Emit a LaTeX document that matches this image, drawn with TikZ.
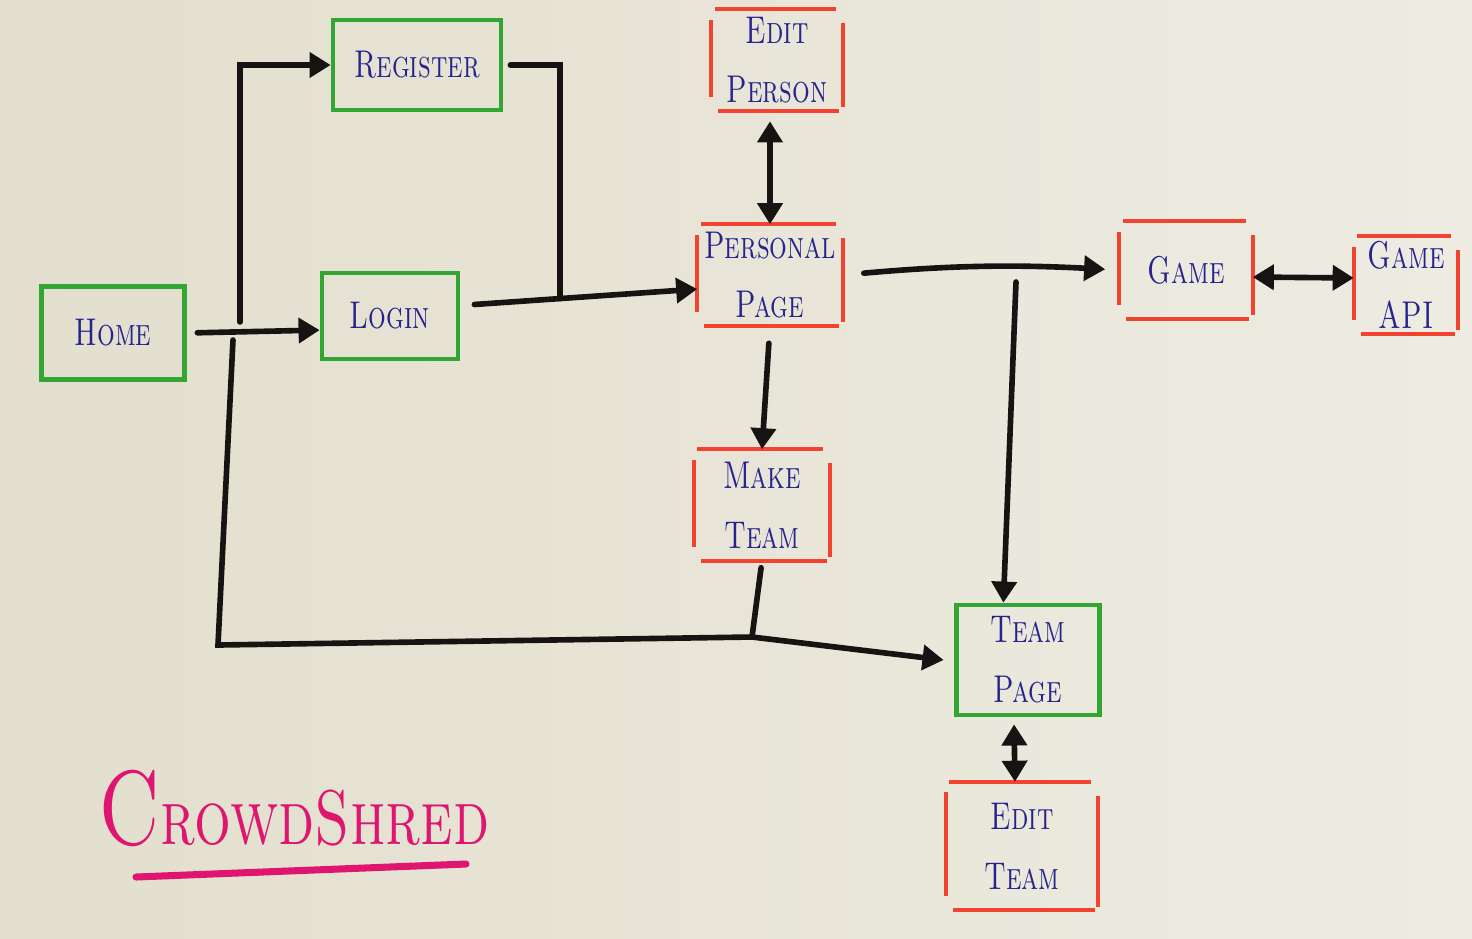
\documentclass[tikz,border=0pt]{standalone}
\usepackage{graphicx}
\usetikzlibrary{arrows.meta,calc}

\definecolor{paperL}{RGB}{226,223,206}
\definecolor{paperR}{RGB}{238,235,226}
\definecolor{pengreen}{RGB}{50,165,50}
\definecolor{penred}{RGB}{240,68,48}
\definecolor{penblue}{RGB}{38,36,140}
\definecolor{penpink}{RGB}{222,22,112}
\definecolor{pen}{RGB}{22,20,18}

% narrow hand lettering
\newcommand{\hw}[1]{\scalebox{0.72}[1]{#1}}

\begin{document}
\begin{tikzpicture}[x=0.01cm, y=-0.01cm,
	page/.style={text=penblue, font=\fontsize{11}{17}\selectfont\scshape, align=center, inner sep=0pt},
	greenbox/.style={page, draw=pengreen, line width=1.3pt},
	redbox/.style={page},
	redline/.style={penred, line width=1.2pt},
	flow/.style={draw=pen, line width=1.6pt, line cap=round},
	oneway/.style={flow, -{Triangle[length=6pt,width=7pt]}},
	twoway/.style={flow, {Triangle[length=6pt,width=7pt]}-{Triangle[length=6pt,width=7pt]}}]

	\shade[left color=paperL, right color=paperR] (0,0) rectangle (1472,938);

	% login side (green)
	\node[greenbox, minimum width=1.43cm, minimum height=0.93cm] (home) at (113,333) {\hw{Home}};
	\node[greenbox, minimum width=1.68cm, minimum height=0.90cm] (register) at (417,65) {\hw{Register}};
	\node[greenbox, minimum width=1.36cm, minimum height=0.86cm] (login) at (390,316) {\hw{Login}};
	\node[greenbox, minimum width=1.43cm, minimum height=1.10cm] (teampage) at (1028,660) {\hw{Team}\\\hw{Page}};

	% red pages
	\node[redbox, minimum width=1.30cm, minimum height=1.00cm] (editp) at (777,60) {\hw{Edit}\\\hw{Person}};
	\node[redbox, minimum width=1.44cm, minimum height=1.00cm] (personal) at (770,275) {\hw{Personal}\\\hw{Page}};
	\node[redbox, minimum width=1.32cm, minimum height=0.96cm] (game) at (1186,270) {\hw{Game}};
	\node[redbox, minimum width=1.03cm, minimum height=0.96cm] (api) at (1406,285) {\hw{Game}\\\hw{API}};
	\node[redbox, minimum width=1.35cm, minimum height=1.10cm] (maketeam) at (762,505) {\hw{Make}\\\hw{Team}};
	\node[redbox, minimum width=1.51cm, minimum height=1.27cm] (editteam) at (1022,846) {\hw{Edit}\\\hw{Team}};

	\foreach \n in {editp, personal, game, api, maketeam, editteam} {
		\draw[redline] ([xshift=1pt]\n.north west) -- ([xshift=-2pt]\n.north east);
		\draw[redline] ([yshift=-4pt]\n.north east) -- ([yshift=1pt]\n.south east);
		\draw[redline] ([xshift=-1pt]\n.south east) -- ([xshift=2pt]\n.south west);
		\draw[redline] ([yshift=4pt]\n.south west) -- ([yshift=-3pt]\n.north west);
	}

	% junctions
	\coordinate (t1) at (240,322);
	\coordinate (t2) at (233,340);
	\coordinate (c1) at (218,645);
	\coordinate (j1) at ($([yshift=3pt]login.east)!0.42!([yshift=-4pt]personal.west)$);
	\coordinate (j2) at (752,637);
	\coordinate (j3) at (1016,282);

	\draw[oneway, shorten <=3pt] (home.east) -- ([yshift=-4pt]login.west);
	\draw[oneway] (t1) |- (register.west);
	\draw[flow, shorten <=2pt] (register.east) -| (j1);
	\draw[oneway, shorten <=4pt] ([yshift=3pt]login.east) -- ([yshift=-4pt]personal.west);
	\draw[twoway, shorten <=3pt] ([xshift=-2pt]editp.south) -- (personal.north);
	\draw[oneway, shorten <=5pt] (personal.south) -- (maketeam.north);
	\draw[oneway, shorten <=6pt, shorten >=4pt] (personal.east) to[bend left=4] (game.west);
	\draw[oneway] (j3) -- ([xshift=-7pt]teampage.north);
	\draw[twoway] ([yshift=-2pt]game.east) -- ([yshift=2pt]api.west);
	\draw[flow, shorten <=2pt] (maketeam.south) -- (j2);
	\draw[oneway] (t2) -- (c1) -- (j2) -- ([xshift=-3pt]teampage.west);
	\draw[twoway, shorten <=2pt] ([xshift=-4pt]teampage.south) -- ([xshift=-2pt]editteam.north);

	% title
	\node[text=penpink, font=\fontsize{22}{22}\selectfont\scshape, inner sep=0pt] (title) at (294,808) {\scalebox{0.75}[1]{{\fontsize{30}{30}\selectfont C}rowdShred}};
	\draw[penpink, line width=2pt, line cap=round] (136,877) -- (466,864);

\end{tikzpicture}
\end{document}
